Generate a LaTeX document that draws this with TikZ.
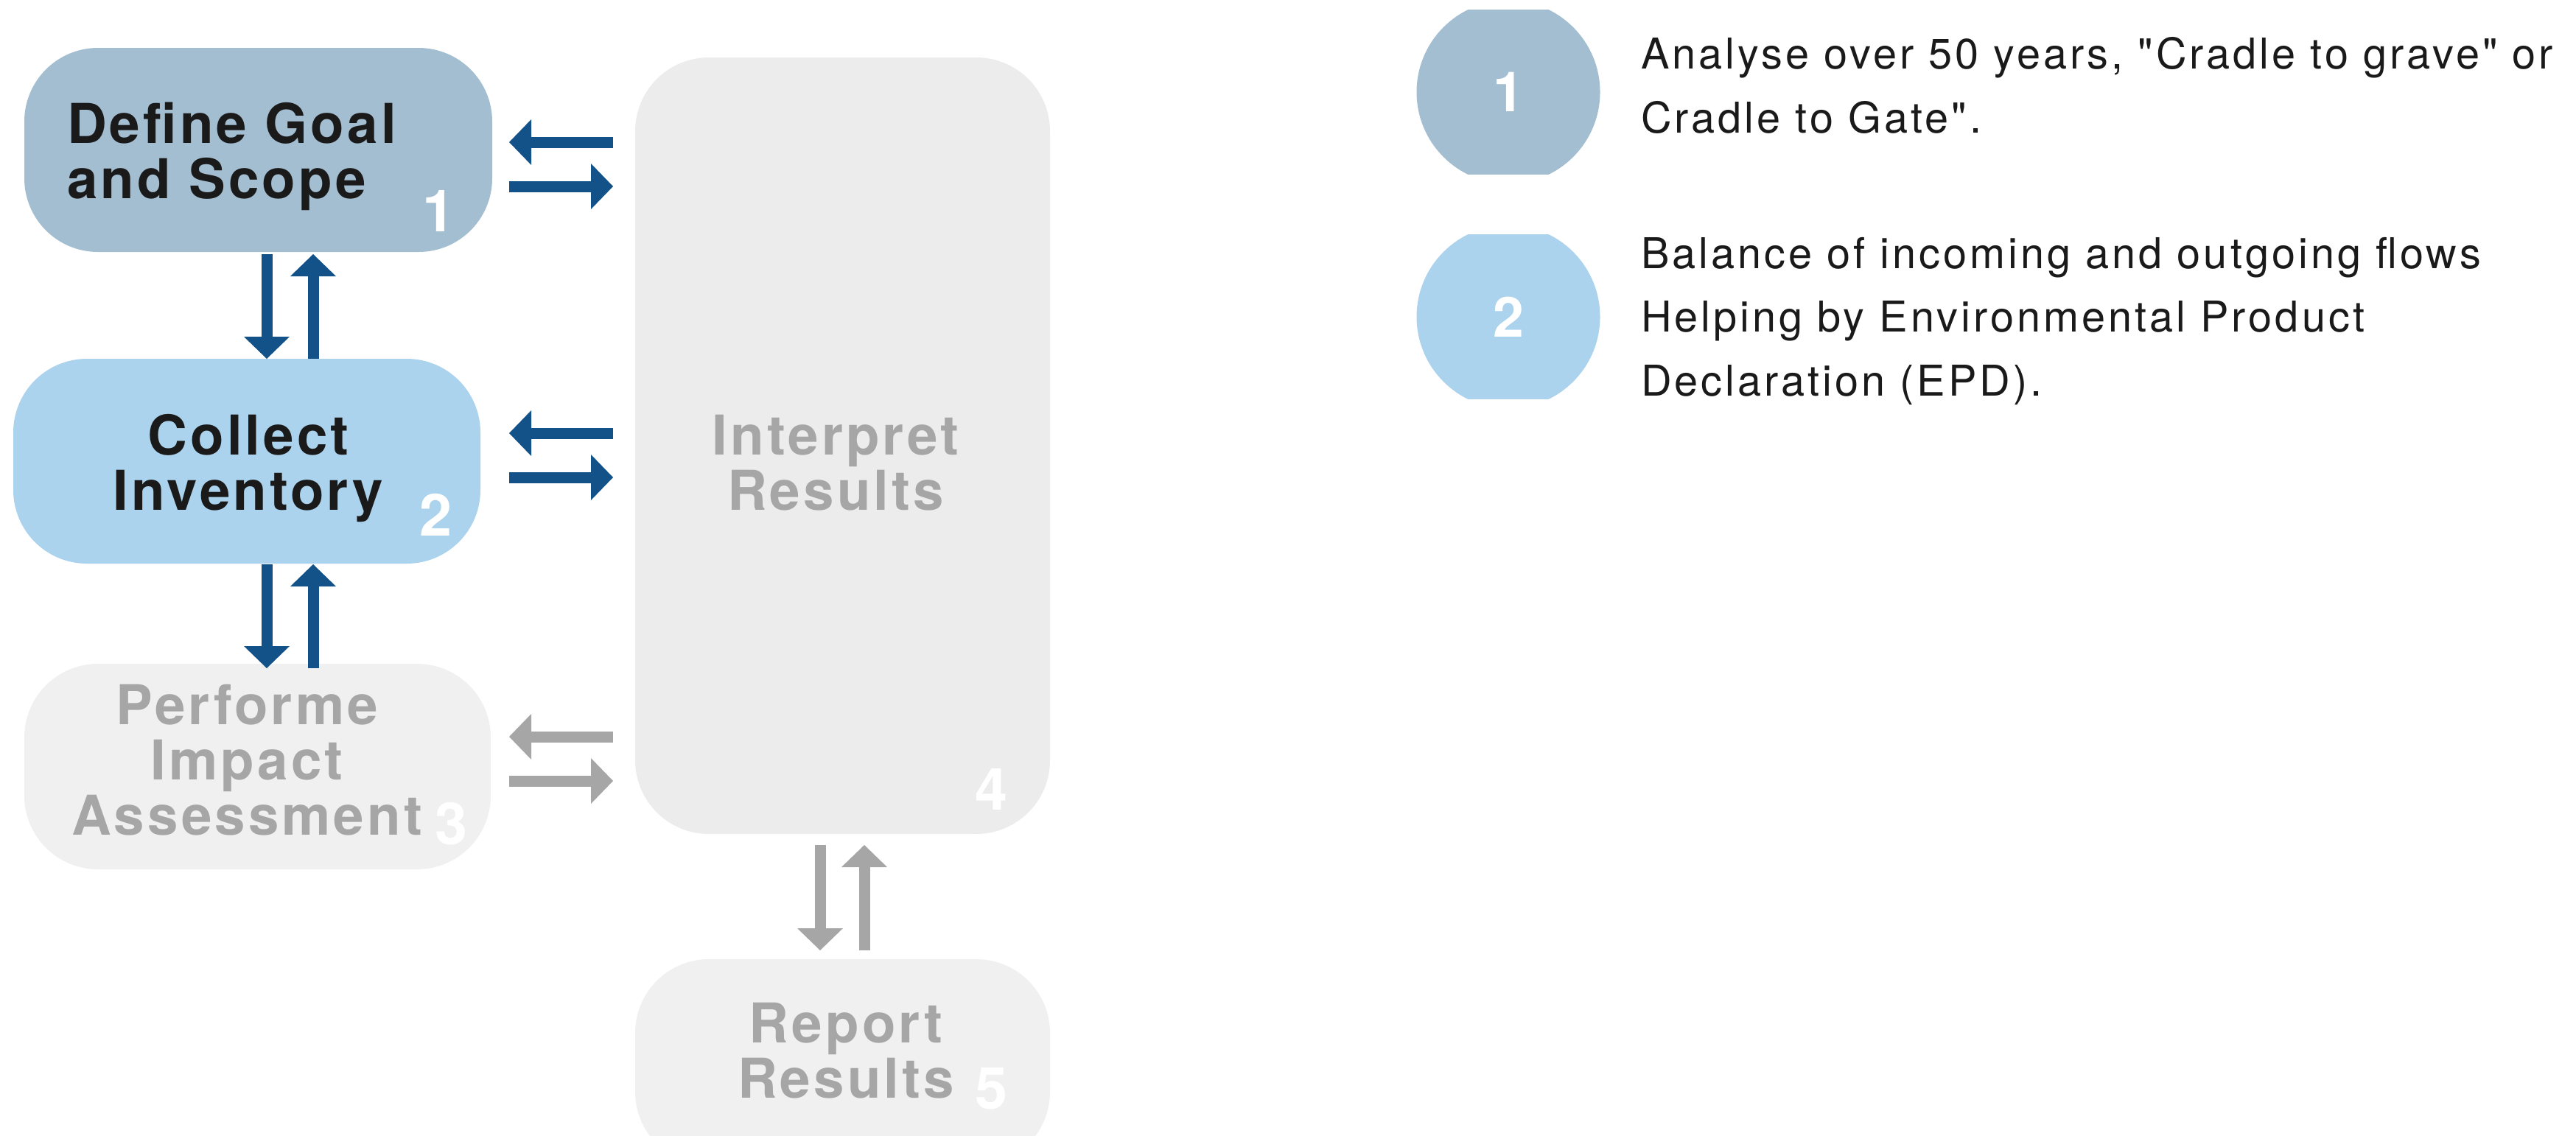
\documentclass[tikz,border=0pt]{standalone}
\usepackage{fontspec}
\setmainfont{TeX Gyre Heros}
\newfontfamily\boxfont{TeX Gyre Heros}[LetterSpace=5.5]
\newfontfamily\legendfont{TeX Gyre Heros}[LetterSpace=7]
\newfontfamily\numfont{TeX Gyre Heros}
\usetikzlibrary{arrows.meta}

\definecolor{stepone}{HTML}{A3BDD1}
\definecolor{steptwo}{HTML}{ACD3ED}
\definecolor{stepoff}{HTML}{F0F0F0}
\definecolor{stepmid}{HTML}{ECECEC}
\definecolor{flowblue}{HTML}{135189}
\definecolor{flowgrey}{HTML}{A6A6A6}
\definecolor{inkdark}{HTML}{1A1A1A}

\begin{document}
\begin{tikzpicture} [every node/.style={inner sep=0pt, outer sep=0pt},
    stagebox/.style={rectangle, rounded corners=1cm},
    stagetext/.style={align=center, anchor=base, font=\boxfont\bfseries\fontsize{21.2}{21.3}\selectfont},
    stagenum/.style={anchor=base, text=white, font=\numfont\bfseries\fontsize{22.5}{24}\selectfont},
    legendtext/.style={align=left, anchor=base west, text=inkdark, font=\legendfont\fontsize{16.4}{24.6}\selectfont},
    flow/.style={line width=1.5mm, -{Triangle[length=3mm, width=6.2mm, line width=0pt]}}]
            \useasboundingbox (0,0) rectangle (34.96,-15.41);
            \clip (0,0) rectangle (34.96,-15.41);

            \node[stagebox, fill=stepone, minimum width=6.35cm, minimum height=2.77cm] (b1) at (3.505,-2.035) {};
            \node[stagebox, fill=steptwo, minimum width=6.34cm, minimum height=2.78cm] (b2) at (3.35,-6.26) {};
            \node[stagebox, fill=stepoff, minimum width=6.33cm, minimum height=2.79cm] (b3) at (3.495,-10.405) {};
            \node[stagebox, fill=stepmid, minimum width=5.63cm, minimum height=10.54cm] (b4) at (11.435,-6.05) {};
            \node[stagebox, fill=stepoff, minimum width=5.63cm, minimum height=2.80cm] (b5) at (11.435,-14.42) {};

            \node[stagetext, align=left, anchor=base west, text=inkdark] (t1) at (0.91,-2.69) {Define Goal\\and Scope};
            \node[stagetext, text=inkdark] (t2) at (3.37,-6.92) {Collect\\Inventory};
            \node[stagetext, text=flowgrey] (t3) at (3.35,-11.33) {Performe\\Impact\\Assessment};
            \node[stagetext, text=flowgrey] (t4) at (11.34,-6.92) {Interpret\\Results};
            \node[stagetext, text=flowgrey] (t5) at (11.48,-14.90) {Report\\Results};

            \node[stagenum] (n1) at (5.95,-3.14) {1};
            \node[stagenum] (n2) at (5.91,-7.27) {2};
            \node[stagenum] (n3) at (6.12,-11.46) {3};
            \node[stagenum] (n4) at (13.45,-10.99) {4};
            \node[stagenum] (n5) at (13.45,-15.05) {5};

            \draw[flow, flowblue, shorten <=3mm, shorten >=2.3mm] ([yshift=1.05mm]b1.east -| b4.west) -- ([yshift=1.05mm]b1.east);
            \draw[flow, flowblue, shorten <=2.3mm, shorten >=3mm] ([yshift=-4.95mm]b1.east) -- ([yshift=-4.95mm]b1.east -| b4.west);
            \draw[flow, flowblue, shorten <=3mm, shorten >=3.9mm] ([yshift=3.8mm]b2.east -| b4.west) -- ([yshift=3.8mm]b2.east);
            \draw[flow, flowblue, shorten <=3.9mm, shorten >=3mm] ([yshift=-2.2mm]b2.east) -- ([yshift=-2.2mm]b2.east -| b4.west);
            \draw[flow, flowgrey, shorten <=3mm, shorten >=2.5mm] ([yshift=4.05mm]b3.east -| b4.west) -- ([yshift=4.05mm]b3.east);
            \draw[flow, flowgrey, shorten <=2.5mm, shorten >=3mm] ([yshift=-1.95mm]b3.east) -- ([yshift=-1.95mm]b3.east -| b4.west);

            \draw[flow, flowblue, shorten <=0.3mm] ([xshift=1.15mm]b1.south) -- ([xshift=1.15mm]b1.south |- b2.north);
            \draw[flow, flowblue, shorten >=0.3mm] ([xshift=7.45mm]b1.south |- b2.north) -- ([xshift=7.45mm]b1.south);
            \draw[flow, flowblue, shorten <=0.1mm, shorten >=-0.6mm] ([xshift=2.7mm]b2.south) -- ([xshift=2.7mm]b2.south |- b3.north);
            \draw[flow, flowblue, shorten <=-0.6mm, shorten >=0.1mm] ([xshift=9mm]b2.south |- b3.north) -- ([xshift=9mm]b2.south);
            \draw[flow, flowgrey, shorten <=1.5mm, shorten >=1.2mm] ([xshift=-3.05mm]b4.south) -- ([xshift=-3.05mm]b4.south |- b5.north);
            \draw[flow, flowgrey, shorten <=1.2mm, shorten >=1.5mm] ([xshift=2.95mm]b4.south |- b5.north) -- ([xshift=2.95mm]b4.south);

            \begin{scope}
                \clip (19,-0.13) rectangle (21.9,-2.36);
                \node[circle, fill=stepone, minimum size=2.49cm, text=white, font=\numfont\bfseries\fontsize{21.4}{24}\selectfont] (c1) at (20.47,-1.25) {1};
            \end{scope}
            \begin{scope}
                \clip (19,-3.18) rectangle (21.9,-5.41);
                \node[circle, fill=steptwo, minimum size=2.49cm, text=white, font=\numfont\bfseries\fontsize{21.4}{24}\selectfont] (c2) at (20.47,-4.30) {2};
            \end{scope}

            \node[legendtext] (l1) at (22.27,-1.80) {Analyse over 50 years, "Cradle to grave" or\\Cradle to Gate".};
            \node[legendtext] (l2) at (22.27,-5.37) {Balance of incoming and outgoing flows\\Helping by Environmental Product\\Declaration (EPD).};
        \end{tikzpicture}
\end{document}
